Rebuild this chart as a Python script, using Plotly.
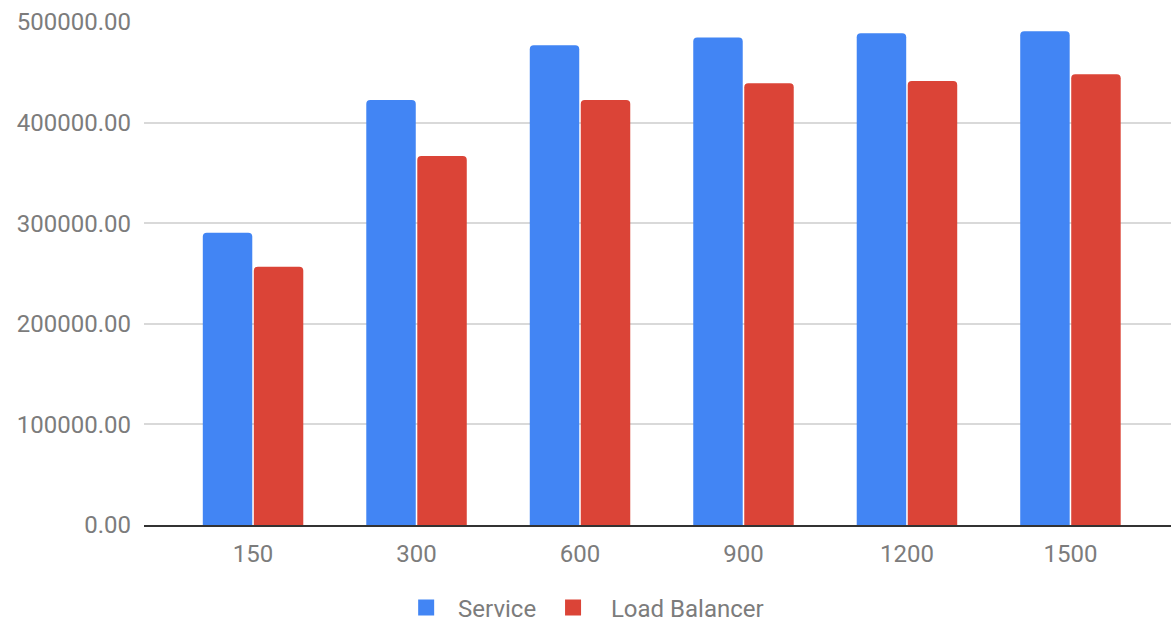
import plotly.graph_objects as go

categories = ["150", "300", "600", "900", "1200", "1500"]
service = [290500, 422500, 477000, 484500, 488800, 490800]
load_balancer = [256800, 366800, 422500, 439000, 441400, 448000]
y_ticks = [0, 100000, 200000, 300000, 400000, 500000]
y_tick_labels = ["0.00", "100000.00", "200000.00", "300000.00", "400000.00", "500000.00"]

BLUE = "#4285F4"
RED = "#DB4437"
FONT = "Roboto"
TEXT = "#7c7c7c"

fig = go.Figure()
fig.add_trace(go.Bar(x=categories, y=service, name="Service",
                     marker=dict(color=BLUE, cornerradius=4, line=dict(width=0)),
                     showlegend=False))
fig.add_trace(go.Bar(x=categories, y=load_balancer, name="Load Balancer",
                     marker=dict(color=RED, cornerradius=4, line=dict(width=0)),
                     showlegend=False))
# legend swatches
fig.add_trace(go.Scatter(x=[None], y=[None], mode="markers", name="\u00a0\u00a0Service\u00a0\u00a0",
                         marker=dict(symbol="square", size=23, color=BLUE)))
fig.add_trace(go.Scatter(x=[None], y=[None], mode="markers", name="\u00a0\u00a0\u00a0Load Balancer",
                         marker=dict(symbol="square", size=23, color=RED)))

fig.update_layout(
    width=1171, height=622,
    margin=dict(l=144, r=0, t=22, b=97, autoexpand=False),
    paper_bgcolor="white", plot_bgcolor="white",
    font=dict(family=FONT, size=24, color=TEXT),
    barmode="group", bargap=0.376, bargroupgap=0.03,
    showlegend=True,
    legend=dict(orientation="h", x=0.432, xanchor="center", y=-0.165, yanchor="middle",
                font=dict(family=FONT, size=24, color=TEXT), itemsizing="trace",
                itemwidth=30, traceorder="normal"),
)
fig.update_xaxes(type="category", range=[-0.667, 5.615], showgrid=False,
                 showline=True, linecolor="#333333", linewidth=2,
                 ticks="", tickfont=dict(family=FONT, size=24, color=TEXT),
                 ticklabelstandoff=6, automargin=False)
fig.update_yaxes(range=[0, 500000], tickvals=y_ticks, ticktext=y_tick_labels,
                 showgrid=True, gridcolor="#d9d9d9", gridwidth=1.5,
                 zeroline=False, showline=False, ticks="",
                 tickfont=dict(family=FONT, size=24, color=TEXT),
                 ticklabelstandoff=12, automargin=False)

fig.write_html("out.html", config={"displayModeBar": False},
               post_script="document.body.style.margin='0';")
